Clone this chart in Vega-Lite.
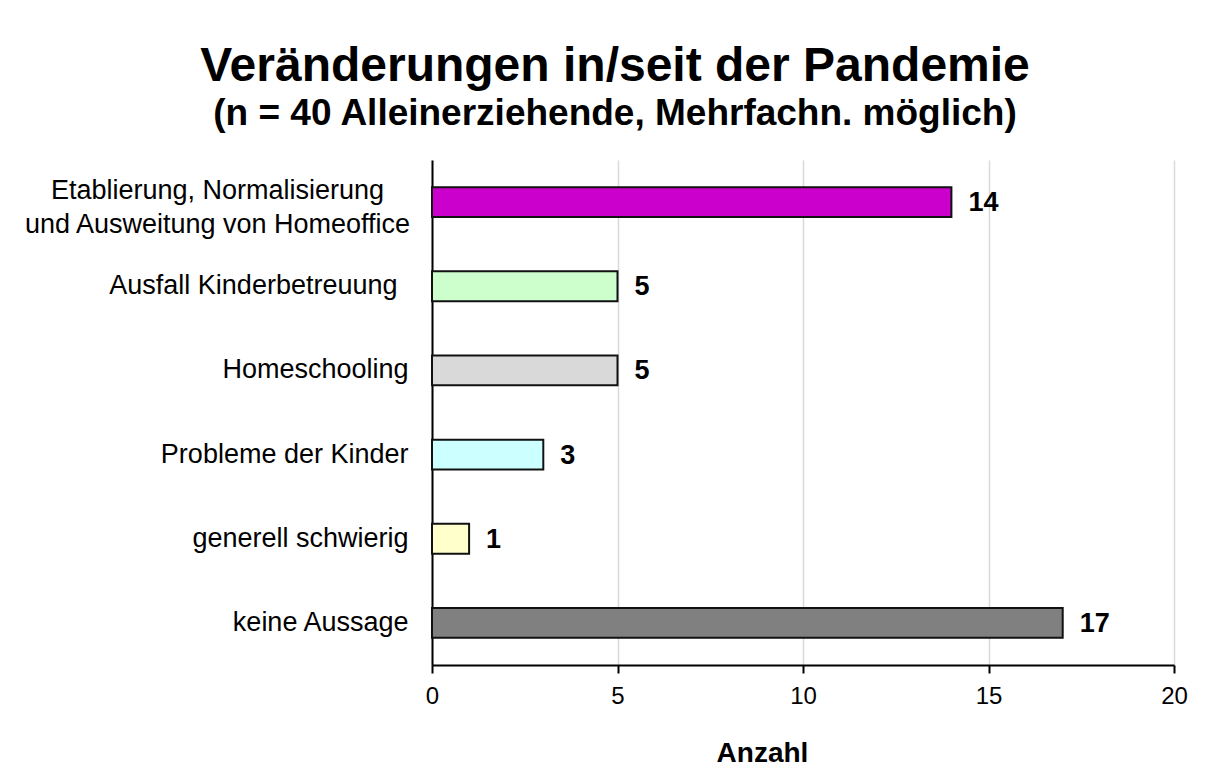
{
  "$schema": "https://vega.github.io/schema/vega-lite/v6.json",
  "autosize": {"type": "none"},
  "padding": {"left": 432, "top": 160, "right": 40, "bottom": 116},
  "width": 742,
  "height": 505,
  "background": "white",
  "title": {
    "text": "Veränderungen in/seit der Pandemie",
    "subtitle": "(n = 40 Alleinerziehende, Mehrfachn. möglich)",
    "anchor": "middle",
    "frame": "group",
    "dx": -188,
    "offset": 28,
    "font": "Liberation Sans",
    "fontSize": 48,
    "fontWeight": "bold",
    "color": "black",
    "subtitleFont": "Liberation Sans",
    "subtitleFontSize": 37,
    "subtitleFontWeight": "bold",
    "subtitleColor": "black",
    "subtitlePadding": 5
  },
  "data": {
    "values": [
      {"Kategorie": "Etablierung, Normalisierung|und Ausweitung von Homeoffice", "Anzahl": 14, "Farbe": "#CC00CC"},
      {"Kategorie": "Ausfall Kinderbetreuung", "Anzahl": 5, "Farbe": "#CCFFCC"},
      {"Kategorie": "Homeschooling", "Anzahl": 5, "Farbe": "#D9D9D9"},
      {"Kategorie": "Probleme der Kinder", "Anzahl": 3, "Farbe": "#CCFFFF"},
      {"Kategorie": "generell schwierig", "Anzahl": 1, "Farbe": "#FFFFCC"},
      {"Kategorie": "keine Aussage", "Anzahl": 17, "Farbe": "#808080"}
    ]
  },
  "encoding": {
    "y": {
      "field": "Kategorie",
      "type": "nominal",
      "sort": null,
      "scale": {"paddingInner": 0.645, "paddingOuter": 0.3225},
      "axis": {
        "title": null,
        "ticks": false,
        "tickSize": 0,
        "domainColor": "black",
        "domainWidth": 2,
        "labelFont": "Liberation Sans",
        "labelFontSize": 27,
        "labelColor": "black",
        "labelLimit": 600,
        "labelLineHeight": 34,
        "labelExpr": "split(datum.label, '|')",
        "labelAlign": {"condition": {"test": "indexof(datum.value, '|') >= 0", "value": "center"}, "value": "right"},
        "labelPadding": {"condition": [{"test": "indexof(datum.value, '|') >= 0", "value": 215}, {"test": "datum.value == 'Ausfall Kinderbetreuung'", "value": 35}], "value": 24},
        "labelOffset": {"condition": {"test": "indexof(datum.value, '|') >= 0", "value": -11}, "value": 0}
      }
    },
    "x": {
      "field": "Anzahl",
      "type": "quantitative",
      "scale": {"domain": [0, 20], "nice": false},
      "axis": {
        "title": "Anzahl",
        "values": [0, 5, 10, 15, 20],
        "grid": true,
        "gridColor": "#D9D9D9",
        "gridWidth": 1.5,
        "domainColor": "black",
        "domainWidth": 2,
        "tickColor": "black",
        "tickWidth": 2,
        "tickSize": 8,
        "labelFlush": false,
        "labelFont": "Liberation Sans",
        "labelFontSize": 24,
        "labelColor": "black",
        "labelPadding": 11,
        "titleFont": "Liberation Sans",
        "titleFontSize": 28,
        "titleFontWeight": "bold",
        "titleColor": "black",
        "titleX": 330,
        "titleY": 96,
        "titleBaseline": "alphabetic",
        "titleAnchor": "middle"
      }
    }
  },
  "layer": [
    {
      "mark": {"type": "bar", "stroke": "#111111", "strokeWidth": 2},
      "encoding": {
        "color": {"field": "Farbe", "type": "nominal", "scale": null, "legend": null}
      }
    },
    {
      "mark": {
        "type": "text",
        "align": "left",
        "baseline": "middle",
        "dx": 17,
        "dy": 1,
        "font": "Liberation Sans",
        "fontSize": 27,
        "fontWeight": "bold",
        "color": "black"
      },
      "encoding": {
        "text": {"field": "Anzahl", "type": "quantitative"}
      }
    }
  ],
  "config": {
    "view": {"stroke": null}
  }
}
